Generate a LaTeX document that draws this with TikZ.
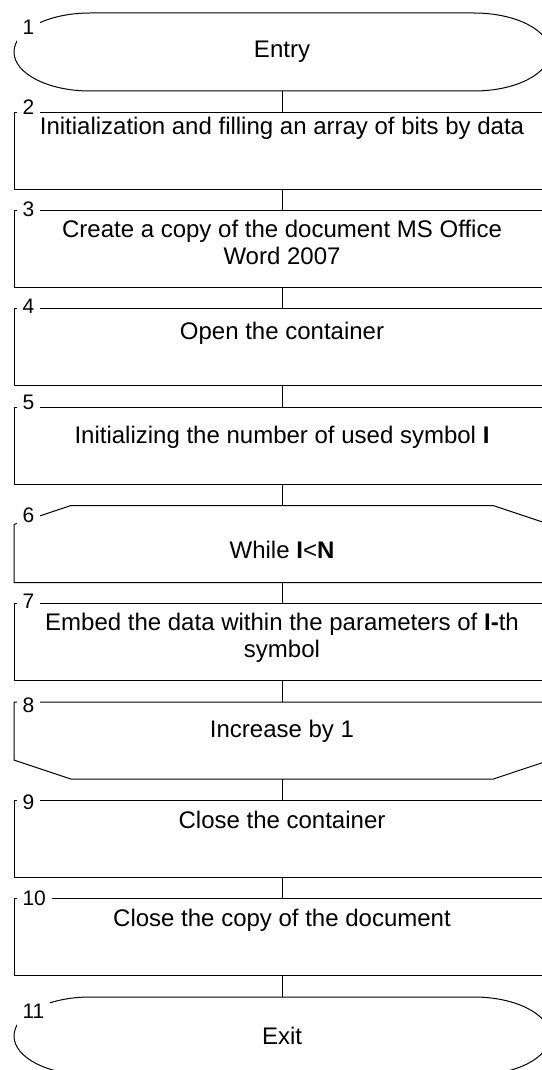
\documentclass[tikz,border=0pt]{standalone}
\usepackage{fontspec}
\setmainfont{Liberation Sans}
\usetikzlibrary{positioning}

\tikzset{
  every node/.style={font=\fontsize{24}{27}\selectfont},
  shp/.style={rectangle, minimum width=536pt, minimum height=77pt, inner sep=0pt, outer sep=0pt},
  blk/.style={shp, draw},
  term/.style={shp, minimum height=78pt},
  txt/.style={align=center, inner sep=0pt},
  num/.style={fill=white, inner xsep=6pt, inner ysep=1pt, anchor=west, font=\fontsize{21}{21}\selectfont},
  numbig/.style={num, inner ysep=8.5pt},
}

\begin{document}
\begin{tikzpicture}[x=1pt, y=-1pt, line width=1pt, node distance=21.3pt]
  \useasboundingbox (0,0) rectangle (541,1070);

  \node (b1) [term, anchor=north] at (282,13) {Entry};
  \node (b2) [blk, below=of b1] {};
  \node (b3) [blk, below=of b2] {};
  \node (b4) [blk, below=of b3] {};
  \node (b5) [blk, below=of b4] {};
  \node (b6) [shp, below=of b5] {};
  \node (b7) [blk, below=of b6] {};
  \node (b8) [shp, below=of b7] {};
  \node (b9) [blk, below=of b8] {};
  \node (b10) [blk, below=of b9] {};
  \node (b11) [term, below=of b10] {Exit};

  % texts hang from the top of their boxes
  \node (t2) [txt, below=4pt of b2.north] {Initialization and filling an array of bits by data};
  \node (t3) [txt, below=9pt of b3.north] {Create a copy of the document MS Office\\Word 2007};
  \node (t4) [txt, below=13pt of b4.north] {Open the container};
  \node (t5) [txt, below=18pt of b5.north] {Initializing the number of used symbol \textbf{I}};
  \node (t6) [txt, below=35pt of b6.north] {While \textbf{I}<\textbf{N}};
  \node (t7) [txt, below=9pt of b7.north] {Embed the data within the parameters of \textbf{I-}th\\symbol};
  \node (t8) [txt, below=18pt of b8.north] {Increase by 1};
  \node (t9) [txt, below=10pt of b9.north] {Close the container};
  \node (t10) [txt, below=10pt of b10.north] {Close the copy of the document};

  % outlines of the odd shapes
  \draw ([xshift=76pt]b1.north west) -- ([xshift=-76pt]b1.north east)
    arc[start angle=90, end angle=-90, x radius=76pt, y radius=39pt]
    -- ([xshift=76pt]b1.south west)
    arc[start angle=270, end angle=90, x radius=76pt, y radius=39pt] -- cycle;
  \draw ([xshift=76pt]b11.north west) -- ([xshift=-76pt]b11.north east)
    arc[start angle=90, end angle=-90, x radius=76pt, y radius=39pt]
    -- ([xshift=76pt]b11.south west)
    arc[start angle=270, end angle=90, x radius=76pt, y radius=39pt] -- cycle;
  \draw ([xshift=57pt]b6.north west) -- ([xshift=-57pt]b6.north east) -- ([yshift=-19pt]b6.north east)
    -- (b6.south east) -- (b6.south west) -- ([yshift=-19pt]b6.north west) -- cycle;
  \draw (b8.north west) -- (b8.north east) -- ([yshift=19pt]b8.south east) -- ([xshift=-57pt]b8.south east)
    -- ([xshift=57pt]b8.south west) -- ([yshift=19pt]b8.south west) -- cycle;

  \draw (b1) -- (b2);
  \draw (b2) -- (b3);
  \draw (b3) -- (b4);
  \draw (b4) -- (b5);
  \draw (b5) -- (b6);
  \draw (b6) -- (b7);
  \draw (b7) -- (b8);
  \draw (b8) -- (b9);
  \draw (b9) -- (b10);
  \draw (b10) -- (b11);

  % step numbers over the top left corners
  \node (n1) [numbig] at ([xshift=2pt,yshift=-14pt]b1.north west) {1};
  \node (n2) [num] at ([xshift=2pt,yshift=5pt]b2.north west) {2};
  \node (n3) [num] at ([xshift=2pt,yshift=1pt]b3.north west) {3};
  \node (n4) [num] at ([xshift=2pt,yshift=3pt]b4.north west) {4};
  \node (n5) [num] at ([xshift=2pt,yshift=5pt]b5.north west) {5};
  \node (n6) [numbig] at ([xshift=2pt,yshift=-10pt]b6.north west) {6};
  \node (n7) [num] at ([xshift=2pt,yshift=3pt]b7.north west) {7};
  \node (n8) [num] at ([xshift=2pt,yshift=-3pt]b8.north west) {8};
  \node (n9) [num] at ([xshift=2pt,yshift=-2pt]b9.north west) {9};
  \node (n10) [num] at ([xshift=2pt]b10.north west) {10};
  \node (n11) [numbig] at ([xshift=2pt,yshift=-14pt]b11.north west) {11};
\end{tikzpicture}
\end{document}
